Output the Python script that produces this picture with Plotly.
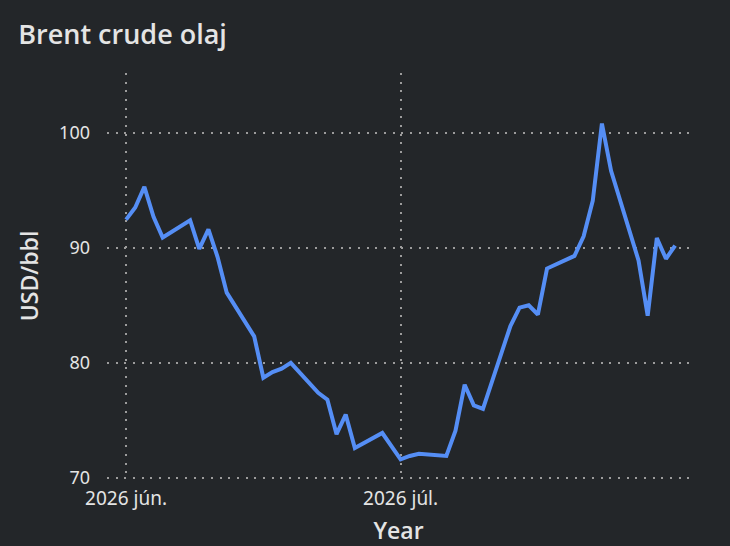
import plotly.graph_objects as go

dates = [
    "2026-06-01", "2026-06-02", "2026-06-03", "2026-06-04", "2026-06-05",
    "2026-06-08", "2026-06-09", "2026-06-10", "2026-06-11", "2026-06-12",
    "2026-06-15", "2026-06-16", "2026-06-17", "2026-06-18", "2026-06-19",
    "2026-06-22", "2026-06-23", "2026-06-24", "2026-06-25", "2026-06-26",
    "2026-06-29", "2026-06-30", "2026-07-01", "2026-07-02", "2026-07-03",
    "2026-07-06", "2026-07-07", "2026-07-08", "2026-07-09", "2026-07-10",
    "2026-07-13", "2026-07-14", "2026-07-15", "2026-07-16", "2026-07-17",
    "2026-07-20", "2026-07-21", "2026-07-22", "2026-07-23", "2026-07-24",
    "2026-07-27", "2026-07-28", "2026-07-29", "2026-07-30", "2026-07-31",
]
brent = [
    92.45, 93.5, 95.3, 92.7, 90.9,
    92.4, 89.9, 91.6, 89.2, 86.1,
    82.3, 78.7, 79.2, 79.5, 80.0,
    77.4, 76.8, 73.8, 75.5, 72.6,
    73.9, 72.8, 71.6, 71.9, 72.1,
    71.9, 74.1, 78.1, 76.3, 76.0,
    83.2, 84.8, 85.0, 84.2, 88.2,
    89.3, 91.0, 94.1, 100.8, 96.7,
    88.9, 84.1, 90.85, 89.05, 90.2,
]
tick_dates = ["2026-06-01", "2026-07-01"]
tick_labels = ["2026 jún.", "2026 júl."]
y_ticks = [70, 80, 90, 100]

BG = "#232629"
TXT = "#e4e4e4"
GRID = "#9c9c9c"
FONT = "Noto Sans"
TFONT = "Open Sans"
DASH = "2px,6.66px"

fig = go.Figure(
    go.Scatter(
        x=dates, y=brent, mode="lines",
        line=dict(color="#558ef5", width=4),
        showlegend=False,
    )
)

fig.update_layout(
    width=730, height=546,
    paper_bgcolor=BG, plot_bgcolor=BG,
    margin=dict(l=107, r=40, t=73, b=67),
    font=dict(family=FONT, color=TXT, size=18),
    title=dict(
        text="Brent crude olaj",
        x=0.025, xanchor="left", xref="container",
        y=1 - 35 / 546, yanchor="middle", yref="container",
        font=dict(family=TFONT, size=27, color=TXT, weight=600),
    ),
    xaxis=dict(
        type="date",
        range=["2026-05-29 22:00", "2026-08-01 15:00"],
        tickvals=tick_dates, ticktext=tick_labels,
        showgrid=True, gridcolor=GRID, griddash=DASH, gridwidth=1.5,
        zeroline=False, showline=False, automargin=False,
        ticklabelstandoff=6,
        tickfont=dict(size=19, color=TXT),
        title=dict(text="Year", standoff=13,
                   font=dict(family=TFONT, size=23, color=TXT, weight=600)),
    ),
    yaxis=dict(
        range=[69.9, 105.2],
        tickvals=y_ticks,
        showgrid=True, gridcolor=GRID, griddash=DASH, gridwidth=1.5,
        zeroline=False, showline=False, automargin=False,
        ticklabelstandoff=16,
        tickfont=dict(size=18, color=TXT),
        title=dict(text="USD/bbl", standoff=14,
                   font=dict(family=TFONT, size=23, color=TXT, weight=600)),
    ),
)

fig.write_html(
    "out.html",
    config={"displayModeBar": False},
    post_script="document.body.style.margin='0';",
)
